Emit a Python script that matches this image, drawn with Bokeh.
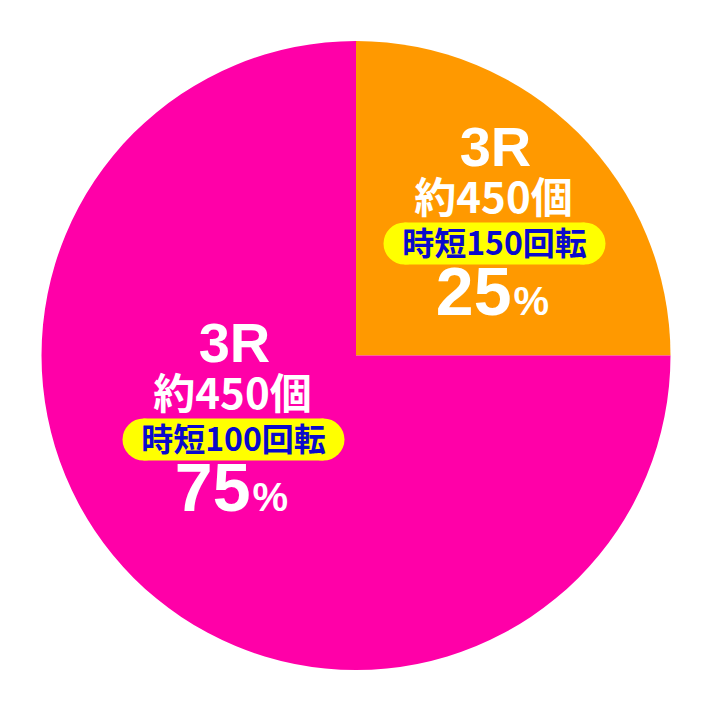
import math
from bokeh.plotting import figure
from bokeh.models import Range1d
from bokeh.core.properties import value
from bokeh.embed import file_html
from bokeh.resources import INLINE

# ---- data ----
shares = [25, 75]
colors = ["#FF9900", "#FF00A8"]
rounds = ["3R", "3R"]
payouts = ["約450個", "約450個"]
jitan = ["時短150回転", "時短100回転"]
pct_labels = ["25", "75"]

W, H = 696, 694
CX, CY, R = 355.5, 339.0, 314.5

p = figure(width=W, height=H, output_backend="svg", toolbar_location=None,
           x_range=Range1d(0, W), y_range=Range1d(0, H), min_border=0)
p.axis.visible = False
p.grid.visible = False
p.outline_line_color = None
p.background_fill_color = "white"
p.border_fill_color = "white"

# wedges, clockwise from 12 o'clock
total = sum(shares)
start = math.pi / 2
starts, ends = [], []
for s in shares:
    end = start - 2 * math.pi * s / total
    starts.append(start)
    ends.append(end)
    start = end
p.wedge(x=[CX] * len(shares), y=[CY] * len(shares), radius=R,
        start_angle=starts, end_angle=ends, direction="clock",
        fill_color=colors, line_color=None)

# label anchor points (pill centres)
anchors = [(494.0, 451.0), (233.0, 255.0)]
PILL_W, PILL_H = 180, 42

for i in range(len(shares)):
    ax, ay = anchors[i]
    # pill
    p.rect(x=[ax], y=[ay], width=PILL_W, height=PILL_H, fill_color="#FFFF00", line_color=None)
    p.circle(x=[ax - PILL_W / 2, ax + PILL_W / 2], y=[ay, ay], radius=PILL_H / 2,
             fill_color="#FFFF00", line_color=None)
    p.text(x=[ax + 1], y=[ay + 97.5], text=[rounds[i]], text_color="white",
           text_font=value("Liberation Sans"), text_font_style="bold",
           text_font_size="56px", text_align="center", text_baseline="middle")
    p.text(x=[ax - 1], y=[ay + 49], text=[payouts[i]], text_color="white",
           text_font=value("Noto Sans CJK JP"), text_font_style="bold",
           text_font_size="42px", text_align="center", text_baseline="middle")
    p.text(x=[ax], y=[ay + 3], text=[jitan[i]], text_color="#0A0ACC",
           text_font=value("Noto Sans CJK JP"), text_font_style="bold",
           text_font_size="32px", text_align="center", text_baseline="middle")
    p.text(x=[ax + 17], y=[ay - 47.5], text=[pct_labels[i]], text_color="white",
           text_font=value("Liberation Sans"), text_font_style="bold",
           text_font_size="68px", text_align="right", text_baseline="middle")
    p.text(x=[ax + 19], y=[ay - 57.7], text=["%"], text_color="white",
           text_font=value("Liberation Sans"), text_font_style="bold",
           text_font_size="40px", text_align="left", text_baseline="middle")

open("out.html", "w").write(file_html(p, INLINE))
